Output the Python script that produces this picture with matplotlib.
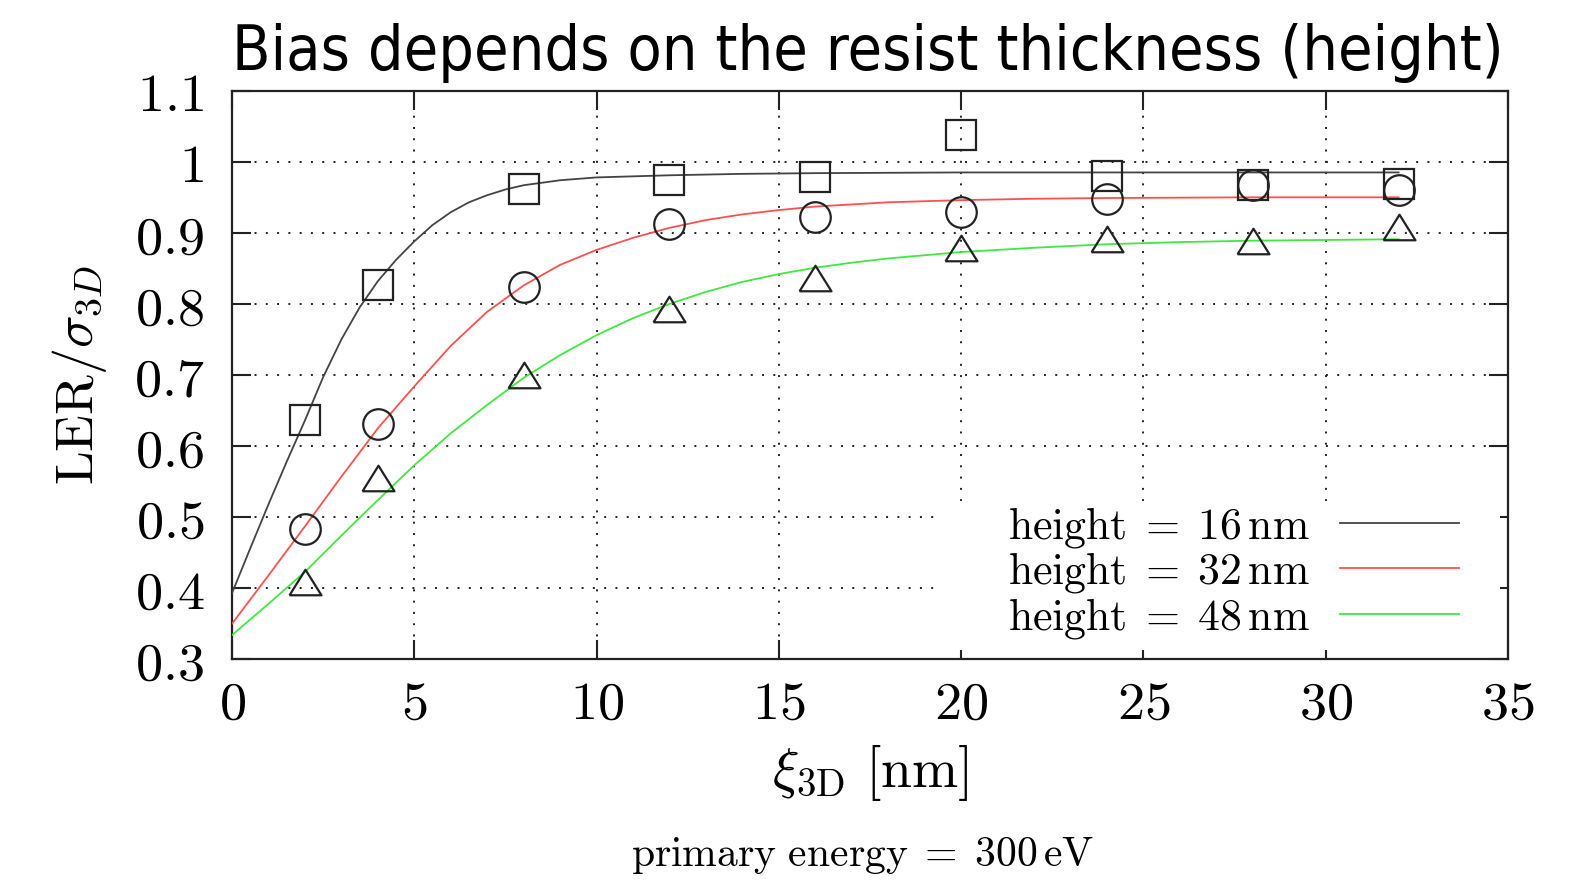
import numpy as np
import matplotlib
matplotlib.use('Agg')
import matplotlib.pyplot as plt
from matplotlib.patches import Rectangle
from matplotlib.ticker import FixedLocator, FuncFormatter

# measured points (squares, circles, triangles)
xi = [2, 4, 8, 12, 16, 20, 24, 28, 32]
ler_16 = [0.636, 0.826, 0.962, 0.975, 0.979, 1.038, 0.980, 0.968, 0.969]
ler_32 = [0.483, 0.631, 0.824, 0.912, 0.923, 0.930, 0.948, 0.968, 0.960]
ler_48 = [0.409, 0.555, 0.700, 0.793, 0.837, 0.878, 0.891, 0.888, 0.908]

# fit curves
fit_16_x = [0, 0.5, 1, 1.5, 2, 2.5, 3, 3.5, 4, 4.5, 5, 5.5, 6, 6.5, 7, 7.5, 8, 9, 10, 12, 14, 16, 20, 24, 28, 32]
fit_16_y = [0.393, 0.456, 0.518, 0.578, 0.636, 0.697, 0.750, 0.795, 0.832, 0.862, 0.888, 0.911, 0.929, 0.943, 0.953, 0.961, 0.967, 0.974, 0.978, 0.981, 0.983, 0.984, 0.985, 0.985, 0.985, 0.985]
fit_32_x = [0, 1, 2, 3, 4, 5, 6, 7, 8, 9, 10, 11, 12, 13, 14, 15, 16, 18, 20, 22, 24, 28, 32]
fit_32_y = [0.350, 0.418, 0.487, 0.557, 0.625, 0.684, 0.741, 0.789, 0.826, 0.855, 0.876, 0.893, 0.907, 0.918, 0.926, 0.932, 0.937, 0.943, 0.946, 0.948, 0.949, 0.950, 0.950]
fit_48_x = [0, 1, 2, 3, 4, 5, 6, 7, 8, 9, 10, 11, 12, 13, 14, 15, 16, 17, 18, 20, 22, 24, 26, 28, 30, 32]
fit_48_y = [0.334, 0.378, 0.423, 0.474, 0.524, 0.573, 0.618, 0.658, 0.696, 0.728, 0.756, 0.780, 0.800, 0.817, 0.831, 0.842, 0.851, 0.858, 0.864, 0.873, 0.879, 0.884, 0.887, 0.889, 0.890, 0.891]

x_ticks = [0, 5, 10, 15, 20, 25, 30, 35]
y_ticks = [0.3, 0.4, 0.5, 0.6, 0.7, 0.8, 0.9, 1.0, 1.1]
y_tick_labels = ['0.3', '0.4', '0.5', '0.6', '0.7', '0.8', '0.9', '1', '1.1']

plt.rcParams['mathtext.fontset'] = 'cm'
plt.rcParams['font.family'] = 'DejaVu Sans'

fig = plt.figure(figsize=(15.84, 8.83), dpi=100)
ax = fig.add_axes([232/1584, 1 - 659.3/883, (1508-232)/1584, (659.3-90.7)/883])

c_black, c_red, c_green = '#444444', '#ff5050', '#40e840'
ax.plot(fit_16_x, fit_16_y, color=c_black, lw=1.3, label=r'$\mathrm{height}\;=\;16\,\mathrm{nm}$', zorder=3)
ax.plot(fit_32_x, fit_32_y, color=c_red, lw=1.3, label=r'$\mathrm{height}\;=\;32\,\mathrm{nm}$', zorder=3)
ax.plot(fit_48_x, fit_48_y, color=c_green, lw=1.3, label=r'$\mathrm{height}\;=\;48\,\mathrm{nm}$', zorder=3)

tri = [(-1, -0.8), (1, -0.8), (0, 0.8), (-1, -0.8)]
mk = dict(ls='none', mfc='none', mec='#222222', mew=1.6, zorder=4)
ax.plot(xi, ler_16, marker='s', ms=21, **mk)
ax.plot(xi, ler_32, marker='o', ms=22, **mk)
ax.plot(xi, ler_48, marker=tri, ms=23, **mk)

ax.set_xlim(0, 35)
ax.set_ylim(0.3, 1.1)
ax.xaxis.set_major_locator(FixedLocator(x_ticks))
ax.yaxis.set_major_locator(FixedLocator(y_ticks))
ax.xaxis.set_major_formatter(FuncFormatter(lambda v, p: r'$%d$' % v))
ax.yaxis.set_major_formatter(FuncFormatter(lambda v, p: '$' + y_tick_labels[p] + '$' if p is not None and p < len(y_tick_labels) else ''))
ax.tick_params(direction='in', length=14, width=1.5, top=True, right=True, labelsize=39, color='#222222')
ax.tick_params(axis='x', pad=13)
ax.tick_params(axis='y', pad=20)
for s in ax.spines.values():
    s.set_linewidth(1.6)
    s.set_color('#222222')

ax.grid(True, color='#222222', lw=1.4, ls=(0, (1, 4.8)))
ax.set_axisbelow(True)

ax.set_ylabel(r'$\mathrm{LER}/\sigma_{3D}$', fontsize=39, labelpad=18)
ax.set_xlabel(r'$\xi_{\mathrm{3D}}\ [\mathrm{nm}]$', fontsize=40, labelpad=10)

# white key area hides the grid, as in gnuplot
ax.add_patch(Rectangle((0.55, 0.016), 0.444, 0.262, transform=ax.transAxes,
                       facecolor='white', edgecolor='none', zorder=1.5))

leg = ax.legend(loc='upper left', bbox_to_anchor=(0.608, 0.273), markerfirst=False,
                fontsize=31.5, handlelength=2.72, handletextpad=0.69, labelspacing=0.0,
                borderpad=0.0, borderaxespad=0.0, frameon=False)
leg.set_zorder(2)

fig.text(868/1584, 1 - 70/883, 'Bias depends on the resist thickness (height)',
         fontsize=45, fontstretch='condensed', ha='center', va='baseline')
fig.text(862/1584, 1 - 855/883, r'$\mathrm{primary\ energy}\;=\;300\,\mathrm{eV}$',
         fontsize=30, ha='center', va='center')

fig.savefig('out.png', dpi=100)
